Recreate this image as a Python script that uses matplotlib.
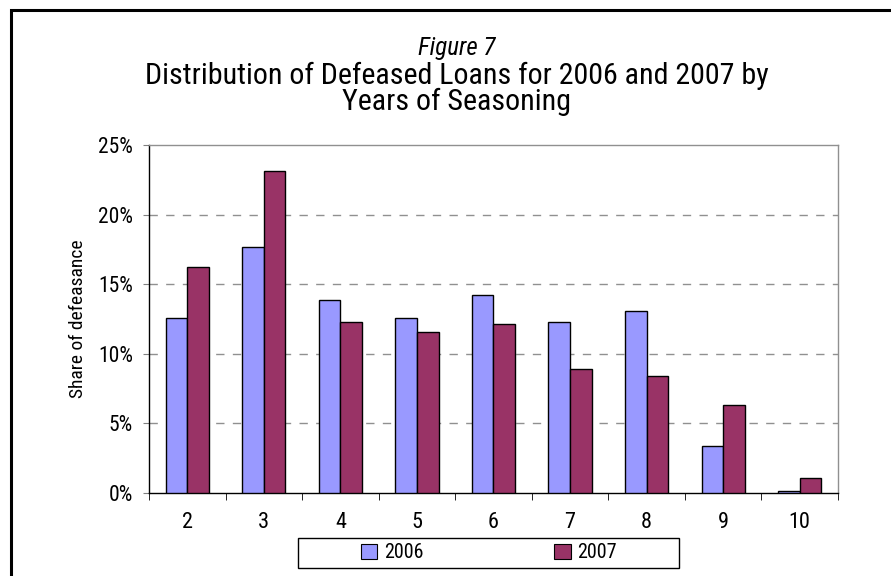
import matplotlib.pyplot as plt
from matplotlib.patches import Rectangle, Patch
from matplotlib.ticker import FixedLocator
import numpy as np

plt.rcParams['font.family'] = ['Roboto Condensed', 'DejaVu Sans']

# seasoning years and share of defeasance (%)
years = ['2', '3', '4', '5', '6', '7', '8', '9', '10']
share_2006 = [12.6, 17.65, 13.9, 12.6, 14.2, 12.25, 13.05, 3.4, 0.12]
share_2007 = [16.2, 23.1, 12.25, 11.55, 12.15, 8.9, 8.4, 6.35, 1.05]
series_names = ['2006', '2007']
colors = ['#9999FF', '#993366']

W, H = 891, 576
fig = plt.figure(figsize=(W / 100, H / 100), dpi=100)
ax = fig.add_axes([149 / W, 83 / H, 689 / W, 348 / H])

x = np.arange(len(years))
w = 0.283
ax.bar(x - w / 2, share_2006, w, color=colors[0], edgecolor='black', linewidth=1, zorder=3)
ax.bar(x + w / 2, share_2007, w, color=colors[1], edgecolor='black', linewidth=1, zorder=3)

ax.set_xlim(-0.5, len(years) - 0.5)
ax.set_ylim(0, 25)
ax.set_yticks([0, 5, 10, 15, 20, 25])
ax.set_yticklabels(['0%', '5%', '10%', '15%', '20%', '25%'], fontsize=15.5)
ax.set_xticks(x)
ax.set_xticklabels(years, fontsize=16)
ax.xaxis.set_minor_locator(FixedLocator(np.arange(-0.5, len(years), 1.0)))
ax.tick_params(axis='x', which='major', length=0, pad=14)
ax.tick_params(axis='x', which='minor', length=5, color='black', direction='out')
ax.tick_params(axis='y', length=4.5, color='#808080', pad=7)

for yv in [5, 10, 15, 20]:
    ax.axhline(yv, color='#909090', linestyle=(0, (6, 6)), linewidth=1, zorder=1)

ax.spines['top'].set_color('#909090')
ax.spines['right'].set_color('#909090')
ax.spines['left'].set_color('black')
ax.spines['bottom'].set_color('black')
for s in ax.spines.values():
    s.set_linewidth(1)

ax.set_ylabel('Share of defeasance', fontsize=14, labelpad=8)

# title block
fig.text(457 / W, 1 - 55 / H, 'Figure 7', ha='center', va='baseline', fontsize=18, style='italic')
fig.text(457 / W, 1 - 110 / H, 'Distribution of Defeased Loans for 2006 and 2007 by\nYears of Seasoning',
         ha='center', va='baseline', fontsize=21.6, linespacing=0.92, multialignment='center')

# legend, with its own box drawn wider than the entries
handles = [Patch(facecolor=c, edgecolor='black', linewidth=0.8) for c in colors]
leg = fig.legend(handles, series_names, loc='center', bbox_to_anchor=(489 / W, 1 - 553 / H),
                 ncol=2, fontsize=14.5, frameon=False,
                 handlelength=0.8, handleheight=0.8, handletextpad=0.35, columnspacing=6.5)
fig.patches.append(Rectangle((298 / W, 1 - 568 / H), 381 / W, 30 / H, transform=fig.transFigure,
                             fill=False, edgecolor='black', linewidth=1))

# outer frame around the figure
fig.patches.append(Rectangle((11 / W, -0.1), 1.0, 1.1 - 10 / H, transform=fig.transFigure,
                             fill=False, edgecolor='black', linewidth=2.2))

fig.savefig('out.png', dpi=100)
